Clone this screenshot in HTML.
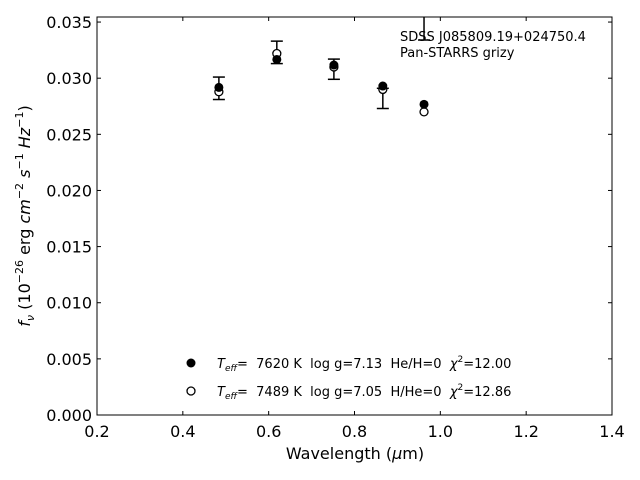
<!DOCTYPE html>
<html><head><meta charset="utf-8"><style>
body{margin:0;background:#fff;}
svg{display:block;font-family:"DejaVu Sans","Liberation Sans",sans-serif;}
svg text{white-space:pre;}
</style></head><body>
<svg id="chart" width="640" height="480" viewBox="0 0 640 480">
<rect x="0" y="0" width="640" height="480" fill="#fff"/>
<defs><clipPath id="clip"><rect x="97" y="17" width="515" height="398"/></clipPath></defs>
<g id="marks" clip-path="url(#clip)"></g>
<rect x="97" y="17" width="515" height="398" fill="none" stroke="#000" stroke-width="1"/>
<g id="axes"></g>
<text x="400" y="41" font-size="13">SDSS J085809.19+024750.4</text>
<text x="400" y="57" font-size="13">Pan-STARRS grizy</text>
<text x="355" y="459" font-size="16" text-anchor="middle">Wavelength (<tspan font-style="italic">μ</tspan>m)</text>
<text transform="translate(30,216) rotate(-90)" font-size="16" text-anchor="middle"><tspan font-style="italic">f</tspan><tspan font-style="italic" font-size="11" dy="4">ν</tspan><tspan dy="-4"> (10</tspan><tspan font-size="11" dy="-7">−26</tspan><tspan dy="7"> erg </tspan><tspan font-style="italic">cm</tspan><tspan font-size="11" dy="-7">−2</tspan><tspan dy="7"> </tspan><tspan font-style="italic">s</tspan><tspan font-size="11" dy="-7">−1</tspan><tspan dy="7"> </tspan><tspan font-style="italic">Hz</tspan><tspan font-size="11" dy="-7">−1</tspan><tspan dy="7">)</tspan></text>
<g>
<circle cx="191" cy="363" r="4.5" fill="#000"/>
<text x="217" y="368" font-size="13"><tspan font-style="italic">T</tspan><tspan font-style="italic" font-size="9" dy="3">eff</tspan><tspan dy="-3">=  7620 K  log g=7.13  He/H=0  </tspan><tspan font-style="italic">χ</tspan><tspan font-size="9" dy="-6">2</tspan><tspan dy="6">=12.00</tspan></text>
<circle cx="191" cy="391" r="4" fill="#fff" stroke="#000" stroke-width="1.3"/>
<text x="217" y="396" font-size="13"><tspan font-style="italic">T</tspan><tspan font-style="italic" font-size="9" dy="3">eff</tspan><tspan dy="-3">=  7489 K  log g=7.05  H/He=0  </tspan><tspan font-style="italic">χ</tspan><tspan font-size="9" dy="-6">2</tspan><tspan dy="6">=12.86</tspan></text>
</g>
</svg>
<script>
const bands = ["g","r","i","z","y"];
const wavelengths = [0.484, 0.619, 0.752, 0.866, 0.962];
const obsFlux = [0.0291, 0.0323, 0.0308, 0.0282, 0.0380];
const obsErr = [0.0010, 0.0010, 0.0009, 0.0009, 0.0046];
const model1Flux = [0.02918, 0.03167, 0.03117, 0.0293, 0.02767];
const model2Flux = [0.02879, 0.0322, 0.0310, 0.0290, 0.0270];
const xTicks = [0.2, 0.4, 0.6, 0.8, 1.0, 1.2, 1.4];
const yTicks = [0, 0.005, 0.010, 0.015, 0.020, 0.025, 0.030, 0.035];
const xTickLabels = ["0.2","0.4","0.6","0.8","1.0","1.2","1.4"];
const yTickLabels = ["0.000","0.005","0.010","0.015","0.020","0.025","0.030","0.035"];

const X0=97, X1=612, Y0=415, Y1=17;
const xMin=0.2, xMax=1.4, yMin=0, yMax=0.03545;
const xs = v => X0 + (v-xMin)/(xMax-xMin)*(X1-X0);
const ys = v => Y0 - (v-yMin)/(yMax-yMin)*(Y0-Y1);
const NS="http://www.w3.org/2000/svg";
function mk(tag, attrs, parent){const e=document.createElementNS(NS,tag);for(const k in attrs)e.setAttribute(k,attrs[k]);parent.appendChild(e);return e;}
const marks=document.getElementById('marks'), axes=document.getElementById('axes');

xTicks.forEach((t,i)=>{
  const x=xs(t);
  const a=mk('line',{x1:x,x2:x,y1:Y0,y2:Y0-4,stroke:'#000'},axes);
  
  
  const b=mk('line',{x1:x,x2:x,y1:Y1,y2:Y1+4,stroke:'#000'},axes);
  
  
  const l=mk('text',{x:x,y:Y0+22,'font-size':16,'text-anchor':'middle'},axes);
  l.textContent=xTickLabels[i];
  
  
});
yTicks.forEach((t,i)=>{
  const y=ys(t);
  const a=mk('line',{x1:X0,x2:X0+4,y1:y,y2:y,stroke:'#000'},axes);
  
  
  const b=mk('line',{x1:X1,x2:X1-4,y1:y,y2:y,stroke:'#000'},axes);
  
  
  const l=mk('text',{x:X0-5,y:y+6,'font-size':16,'text-anchor':'end'},axes);
  l.textContent=yTickLabels[i];
  
  
});

wavelengths.forEach((w,i)=>{
  const x=xs(w);
  const g=mk('g',{},marks);
  
  
  const yt=ys(obsFlux[i]+obsErr[i]), yb=ys(obsFlux[i]-obsErr[i]);
  mk('line',{x1:x,x2:x,y1:yt,y2:yb,stroke:'#000','stroke-width':1.5},g);
  mk('line',{x1:x-6,x2:x+6,y1:yt,y2:yt,stroke:'#000','stroke-width':1.5},g);
  mk('line',{x1:x-6,x2:x+6,y1:yb,y2:yb,stroke:'#000','stroke-width':1.5},g);
  const c2=mk('circle',{cx:x,cy:ys(model2Flux[i]),r:4,fill:'#fff',stroke:'#000','stroke-width':1.3},marks);
  
  
  const c1=mk('circle',{cx:x,cy:ys(model1Flux[i]),r:4.5,fill:'#000'},marks);
  
  
});
</script>
</body></html>
